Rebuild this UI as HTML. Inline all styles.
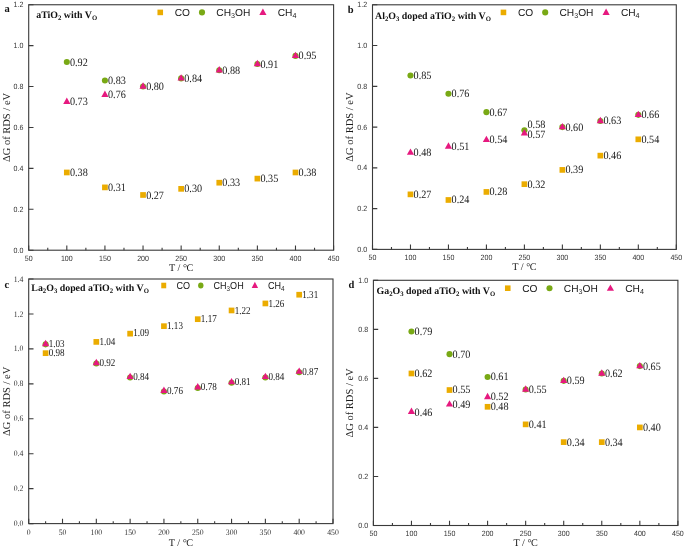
<!DOCTYPE html>
<html><head><meta charset="utf-8"><style>
html,body{margin:0;padding:0;background:#fff;}
svg{display:block;will-change:transform;text-rendering:geometricPrecision;}
.sf{font-family:"Liberation Serif",serif;}
.ss{font-family:"Liberation Sans",sans-serif;}
</style></head><body>
<svg width="685" height="548" viewBox="0 0 685 548">
<rect width="685" height="548" fill="#fff"/>
<rect x="28.7" y="4.75" width="304.9" height="245.45" fill="none" stroke="#3a3a3a" stroke-width="1.1"/>
<path d="M28.7 250.2v-4.8 M47.76 250.2v-2.4 M66.81 250.2v-4.8 M85.87 250.2v-2.4 M104.93 250.2v-4.8 M123.98 250.2v-2.4 M143.04 250.2v-4.8 M162.09 250.2v-2.4 M181.15 250.2v-4.8 M200.21 250.2v-2.4 M219.26 250.2v-4.8 M238.32 250.2v-2.4 M257.38 250.2v-4.8 M276.43 250.2v-2.4 M295.49 250.2v-4.8 M314.54 250.2v-2.4 M333.6 250.2v-4.8 M28.7 250.2h4.8 M28.7 209.29h4.8 M28.7 168.38h4.8 M28.7 127.47h4.8 M28.7 86.57h4.8 M28.7 45.66h4.8 M28.7 4.75h4.8" stroke="#3a3a3a" stroke-width="1.1" fill="none"/>
<g class="ss" font-size="7.7" fill="#333" text-anchor="middle"><text transform="translate(28.7 261) scale(0.92 1)">50</text><text transform="translate(66.81 261) scale(0.92 1)">100</text><text transform="translate(104.93 261) scale(0.92 1)">150</text><text transform="translate(143.04 261) scale(0.92 1)">200</text><text transform="translate(181.15 261) scale(0.92 1)">250</text><text transform="translate(219.26 261) scale(0.92 1)">300</text><text transform="translate(257.38 261) scale(0.92 1)">350</text><text transform="translate(295.49 261) scale(0.92 1)">400</text><text transform="translate(333.6 261) scale(0.92 1)">450</text></g>
<g class="ss" font-size="7.7" fill="#333" text-anchor="end"><text transform="translate(23.4 252.8) scale(0.92 1)">0.0</text><text transform="translate(23.4 211.89) scale(0.92 1)">0.2</text><text transform="translate(23.4 170.98) scale(0.92 1)">0.4</text><text transform="translate(23.4 130.07) scale(0.92 1)">0.6</text><text transform="translate(23.4 89.17) scale(0.92 1)">0.8</text><text transform="translate(23.4 48.26) scale(0.92 1)">1.0</text><text transform="translate(23.4 7.35) scale(0.92 1)">1.2</text></g>
<text transform="translate(9.6 127.47) rotate(-90)" text-anchor="middle" class="sf" font-size="10.5" fill="#1a1a1a">ΔG of RDS / eV</text>
<text x="181.15" y="270.6" text-anchor="middle" class="sf" font-size="10.2" fill="#1a1a1a">T / °<tspan dx="-0.6">C</tspan></text>
<text x="4.4" y="11.8" class="sf" font-weight="bold" font-size="10.5" fill="#111">a</text>
<text x="36.2" y="17.9" class="sf" font-weight="bold" font-size="9.9" fill="#111"><tspan dy="0">aTiO</tspan><tspan font-size="6.73" dy="2">2</tspan><tspan dy="-2"> with V</tspan><tspan font-size="6.73" dy="2">O</tspan></text>
<g transform="translate(157.4 12.4) scale(1.0 1)">
<rect x="0.06" y="-2.79" width="5.59" height="5.59" fill="#EBAC00"/>
<g class="ss" font-size="10.2" fill="#222">
<text x="17.3" y="3.6">CO</text>
<text x="58.9" y="3.6">CH<tspan font-size="7.14" dy="2">3</tspan><tspan dy="-2">OH</tspan></text>
<text x="120.3" y="3.6">CH<tspan font-size="7.14" dy="2">4</tspan></text>
</g>
<circle cx="44.6" cy="0" r="3.05" fill="#79A915"/>
<path d="M105.5 -3.8L109.1 2.6L101.9 2.6Z" fill="#E6197F"/>
</g>
<rect x="63.96" y="169.62" width="5.7" height="5.7" fill="#EBAC00"/>
<rect x="102.08" y="184.54" width="5.7" height="5.7" fill="#EBAC00"/>
<rect x="140.19" y="192.12" width="5.7" height="5.7" fill="#EBAC00"/>
<rect x="178.3" y="185.99" width="5.7" height="5.7" fill="#EBAC00"/>
<rect x="216.41" y="179.85" width="5.7" height="5.7" fill="#EBAC00"/>
<rect x="254.53" y="175.76" width="5.7" height="5.7" fill="#EBAC00"/>
<rect x="292.64" y="169.62" width="5.7" height="5.7" fill="#EBAC00"/>
<circle cx="66.81" cy="62.02" r="3.05" fill="#79A915"/>
<circle cx="104.93" cy="80.43" r="3.05" fill="#79A915"/>
<circle cx="143.04" cy="86.57" r="3.05" fill="#79A915"/>
<circle cx="181.15" cy="78.39" r="3.05" fill="#79A915"/>
<circle cx="219.26" cy="70.2" r="3.05" fill="#79A915"/>
<circle cx="257.38" cy="64.07" r="3.05" fill="#79A915"/>
<circle cx="295.49" cy="55.89" r="3.05" fill="#79A915"/>
<path d="M66.81 97.58L70.41 103.98L63.21 103.98Z" fill="#E6197F"/>
<path d="M104.93 90.55L108.53 96.95L101.33 96.95Z" fill="#E6197F"/>
<path d="M143.04 82.37L146.64 88.77L139.44 88.77Z" fill="#E6197F"/>
<path d="M181.15 74.19L184.75 80.59L177.55 80.59Z" fill="#E6197F"/>
<path d="M219.26 66L222.86 72.4L215.66 72.4Z" fill="#E6197F"/>
<path d="M257.38 59.87L260.98 66.27L253.78 66.27Z" fill="#E6197F"/>
<path d="M295.49 51.69L299.09 58.09L291.89 58.09Z" fill="#E6197F"/>
<g class="sf" font-size="11.2" fill="#1a1a1a"><text transform="translate(69.91 176.01) scale(0.91 1)">0.38</text><text transform="translate(108.03 190.93) scale(0.91 1)">0.31</text><text transform="translate(146.14 198.51) scale(0.91 1)">0.27</text><text transform="translate(184.25 192.38) scale(0.91 1)">0.30</text><text transform="translate(222.36 186.24) scale(0.91 1)">0.33</text><text transform="translate(260.48 182.15) scale(0.91 1)">0.35</text><text transform="translate(298.59 176.01) scale(0.91 1)">0.38</text><text transform="translate(69.91 65.56) scale(0.91 1)">0.92</text><text transform="translate(108.03 83.97) scale(0.91 1)">0.83</text><text transform="translate(69.91 105.32) scale(0.91 1)">0.73</text><text transform="translate(108.03 98.29) scale(0.91 1)">0.76</text><text transform="translate(146.14 90.11) scale(0.91 1)">0.80</text><text transform="translate(184.25 81.93) scale(0.91 1)">0.84</text><text transform="translate(222.36 73.74) scale(0.91 1)">0.88</text><text transform="translate(260.48 67.61) scale(0.91 1)">0.91</text><text transform="translate(298.59 59.43) scale(0.91 1)">0.95</text></g>
<rect x="372.5" y="4.8" width="303.8" height="244.6" fill="none" stroke="#3a3a3a" stroke-width="1.1"/>
<path d="M372.5 249.4v-4.8 M391.49 249.4v-2.4 M410.48 249.4v-4.8 M429.46 249.4v-2.4 M448.45 249.4v-4.8 M467.44 249.4v-2.4 M486.42 249.4v-4.8 M505.41 249.4v-2.4 M524.4 249.4v-4.8 M543.39 249.4v-2.4 M562.38 249.4v-4.8 M581.36 249.4v-2.4 M600.35 249.4v-4.8 M619.34 249.4v-2.4 M638.32 249.4v-4.8 M657.31 249.4v-2.4 M676.3 249.4v-4.8 M372.5 249.4h4.8 M372.5 208.63h4.8 M372.5 167.87h4.8 M372.5 127.1h4.8 M372.5 86.33h4.8 M372.5 45.57h4.8 M372.5 4.8h4.8" stroke="#3a3a3a" stroke-width="1.1" fill="none"/>
<g class="ss" font-size="7.7" fill="#333" text-anchor="middle"><text transform="translate(372.5 260.2) scale(0.92 1)">50</text><text transform="translate(410.48 260.2) scale(0.92 1)">100</text><text transform="translate(448.45 260.2) scale(0.92 1)">150</text><text transform="translate(486.42 260.2) scale(0.92 1)">200</text><text transform="translate(524.4 260.2) scale(0.92 1)">250</text><text transform="translate(562.38 260.2) scale(0.92 1)">300</text><text transform="translate(600.35 260.2) scale(0.92 1)">350</text><text transform="translate(638.32 260.2) scale(0.92 1)">400</text><text transform="translate(676.3 260.2) scale(0.92 1)">450</text></g>
<g class="ss" font-size="7.7" fill="#333" text-anchor="end"><text transform="translate(367.2 252) scale(0.92 1)">0.0</text><text transform="translate(367.2 211.23) scale(0.92 1)">0.2</text><text transform="translate(367.2 170.47) scale(0.92 1)">0.4</text><text transform="translate(367.2 129.7) scale(0.92 1)">0.6</text><text transform="translate(367.2 88.93) scale(0.92 1)">0.8</text><text transform="translate(367.2 48.17) scale(0.92 1)">1.0</text><text transform="translate(367.2 7.4) scale(0.92 1)">1.2</text></g>
<text transform="translate(353.4 127.1) rotate(-90)" text-anchor="middle" class="sf" font-size="10.5" fill="#1a1a1a">ΔG of RDS / eV</text>
<text x="524.4" y="270.2" text-anchor="middle" class="sf" font-size="10.2" fill="#1a1a1a">T / °<tspan dx="-0.6">C</tspan></text>
<text x="347.8" y="12.6" class="sf" font-weight="bold" font-size="10.5" fill="#111">b</text>
<text x="375" y="18.6" class="sf" font-weight="bold" font-size="9.9" fill="#111"><tspan dy="0">Al</tspan><tspan font-size="6.73" dy="2">2</tspan><tspan dy="-2">O</tspan><tspan font-size="6.73" dy="2">3</tspan><tspan dy="-2"> doped aTiO</tspan><tspan font-size="6.73" dy="2">2</tspan><tspan dy="-2"> with V</tspan><tspan font-size="6.73" dy="2">O</tspan></text>
<g transform="translate(500.6 12.4) scale(1.0 1)">
<rect x="0.06" y="-2.79" width="5.59" height="5.59" fill="#EBAC00"/>
<g class="ss" font-size="10.2" fill="#222">
<text x="17.3" y="3.6">CO</text>
<text x="58.9" y="3.6">CH<tspan font-size="7.14" dy="2">3</tspan><tspan dy="-2">OH</tspan></text>
<text x="120.3" y="3.6">CH<tspan font-size="7.14" dy="2">4</tspan></text>
</g>
<circle cx="44.6" cy="0" r="3.05" fill="#79A915"/>
<path d="M105.5 -3.8L109.1 2.6L101.9 2.6Z" fill="#E6197F"/>
</g>
<rect x="407.62" y="191.52" width="5.7" height="5.7" fill="#EBAC00"/>
<rect x="445.6" y="197.13" width="5.7" height="5.7" fill="#EBAC00"/>
<rect x="483.57" y="189.08" width="5.7" height="5.7" fill="#EBAC00"/>
<rect x="521.55" y="181.32" width="5.7" height="5.7" fill="#EBAC00"/>
<rect x="559.52" y="167.06" width="5.7" height="5.7" fill="#EBAC00"/>
<rect x="597.5" y="152.79" width="5.7" height="5.7" fill="#EBAC00"/>
<rect x="635.47" y="136.48" width="5.7" height="5.7" fill="#EBAC00"/>
<circle cx="410.48" cy="75.54" r="3.05" fill="#79A915"/>
<circle cx="448.45" cy="93.79" r="3.05" fill="#79A915"/>
<circle cx="486.42" cy="112.13" r="3.05" fill="#79A915"/>
<circle cx="524.4" cy="130.28" r="3.05" fill="#79A915"/>
<circle cx="562.38" cy="127.1" r="3.05" fill="#79A915"/>
<circle cx="600.35" cy="120.99" r="3.05" fill="#79A915"/>
<circle cx="638.32" cy="114.87" r="3.05" fill="#79A915"/>
<path d="M410.48 148.46L414.08 154.86L406.88 154.86Z" fill="#E6197F"/>
<path d="M448.45 142.25L452.05 148.64L444.85 148.64Z" fill="#E6197F"/>
<path d="M486.42 135.63L490.02 142.03L482.82 142.03Z" fill="#E6197F"/>
<path d="M524.4 129.02L528 135.42L520.8 135.42Z" fill="#E6197F"/>
<path d="M562.38 122.9L565.98 129.3L558.77 129.3Z" fill="#E6197F"/>
<path d="M600.35 116.79L603.95 123.19L596.75 123.19Z" fill="#E6197F"/>
<path d="M638.32 110.67L641.92 117.07L634.72 117.07Z" fill="#E6197F"/>
<g class="sf" font-size="11.2" fill="#1a1a1a"><text transform="translate(413.58 197.81) scale(0.91 1)">0.27</text><text transform="translate(451.55 203.42) scale(0.91 1)">0.24</text><text transform="translate(489.52 195.37) scale(0.91 1)">0.28</text><text transform="translate(527.5 187.61) scale(0.91 1)">0.32</text><text transform="translate(565.48 173.34) scale(0.91 1)">0.39</text><text transform="translate(603.45 159.08) scale(0.91 1)">0.46</text><text transform="translate(641.42 142.77) scale(0.91 1)">0.54</text><text transform="translate(413.58 78.98) scale(0.91 1)">0.85</text><text transform="translate(451.55 97.23) scale(0.91 1)">0.76</text><text transform="translate(489.52 115.57) scale(0.91 1)">0.67</text><text transform="translate(527.5 127.72) scale(0.91 1)">0.58</text><text transform="translate(527.5 137.66) scale(0.91 1)">0.57</text><text transform="translate(413.58 156.1) scale(0.91 1)">0.48</text><text transform="translate(451.55 149.88) scale(0.91 1)">0.51</text><text transform="translate(489.52 143.27) scale(0.91 1)">0.54</text><text transform="translate(565.48 130.54) scale(0.91 1)">0.60</text><text transform="translate(603.45 124.43) scale(0.91 1)">0.63</text><text transform="translate(641.42 118.31) scale(0.91 1)">0.66</text></g>
<rect x="28.7" y="279" width="304.3" height="244.6" fill="none" stroke="#3a3a3a" stroke-width="1.1"/>
<path d="M28.7 523.6v-4.8 M45.61 523.6v-2.4 M62.51 523.6v-4.8 M79.42 523.6v-2.4 M96.32 523.6v-4.8 M113.23 523.6v-2.4 M130.13 523.6v-4.8 M147.04 523.6v-2.4 M163.94 523.6v-4.8 M180.85 523.6v-2.4 M197.76 523.6v-4.8 M214.66 523.6v-2.4 M231.57 523.6v-4.8 M248.47 523.6v-2.4 M265.38 523.6v-4.8 M282.28 523.6v-2.4 M299.19 523.6v-4.8 M316.09 523.6v-2.4 M333 523.6v-4.8 M28.7 523.6h4.8 M28.7 488.66h4.8 M28.7 453.71h4.8 M28.7 418.77h4.8 M28.7 383.83h4.8 M28.7 348.89h4.8 M28.7 313.94h4.8 M28.7 279h4.8" stroke="#3a3a3a" stroke-width="1.1" fill="none"/>
<g class="sf" font-size="8.4" fill="#333" text-anchor="middle"><text transform="translate(28.7 535.1) scale(0.92 1)">0</text><text transform="translate(62.51 535.1) scale(0.92 1)">50</text><text transform="translate(96.32 535.1) scale(0.92 1)">100</text><text transform="translate(130.13 535.1) scale(0.92 1)">150</text><text transform="translate(163.94 535.1) scale(0.92 1)">200</text><text transform="translate(197.76 535.1) scale(0.92 1)">250</text><text transform="translate(231.57 535.1) scale(0.92 1)">300</text><text transform="translate(265.38 535.1) scale(0.92 1)">350</text><text transform="translate(299.19 535.1) scale(0.92 1)">400</text><text transform="translate(333 535.1) scale(0.92 1)">450</text></g>
<g class="sf" font-size="8.4" fill="#333" text-anchor="end"><text transform="translate(23.4 526.2) scale(0.92 1)">0.0</text><text transform="translate(23.4 491.26) scale(0.92 1)">0.2</text><text transform="translate(23.4 456.31) scale(0.92 1)">0.4</text><text transform="translate(23.4 421.37) scale(0.92 1)">0.6</text><text transform="translate(23.4 386.43) scale(0.92 1)">0.8</text><text transform="translate(23.4 351.49) scale(0.92 1)">1.0</text><text transform="translate(23.4 316.54) scale(0.92 1)">1.2</text><text transform="translate(23.4 281.6) scale(0.92 1)">1.4</text></g>
<text transform="translate(9.6 401.3) rotate(-90)" text-anchor="middle" class="sf" font-size="10.5" fill="#1a1a1a">ΔG of RDS / eV</text>
<text x="180.85" y="545.6" text-anchor="middle" class="sf" font-size="10.2" fill="#1a1a1a">T / °<tspan dx="-0.6">C</tspan></text>
<text x="4.6" y="287.9" class="sf" font-weight="bold" font-size="10.5" fill="#111">c</text>
<text x="31.3" y="291.1" class="sf" font-weight="bold" font-size="9.9" fill="#111"><tspan dy="0">La</tspan><tspan font-size="6.73" dy="2">2</tspan><tspan dy="-2">O</tspan><tspan font-size="6.73" dy="2">3</tspan><tspan dy="-2"> doped aTiO</tspan><tspan font-size="6.73" dy="2">2</tspan><tspan dy="-2"> with V</tspan><tspan font-size="6.73" dy="2">O</tspan></text>
<g transform="translate(161.2 285.5) scale(0.888 1)">
<rect x="0.06" y="-2.79" width="5.59" height="5.59" fill="#EBAC00"/>
<g class="ss" font-size="10.2" fill="#222">
<text x="17.3" y="3.6">CO</text>
<text x="58.9" y="3.6">CH<tspan font-size="7.14" dy="2">3</tspan><tspan dy="-2">OH</tspan></text>
<text x="120.3" y="3.6">CH<tspan font-size="7.14" dy="2">4</tspan></text>
</g>
<circle cx="44.6" cy="0" r="3.05" fill="#79A915"/>
<path d="M105.5 -3.8L109.1 2.6L101.9 2.6Z" fill="#E6197F"/>
</g>
<rect x="42.76" y="350.33" width="5.7" height="5.7" fill="#EBAC00"/>
<rect x="93.47" y="339.05" width="5.7" height="5.7" fill="#EBAC00"/>
<rect x="127.28" y="330.81" width="5.7" height="5.7" fill="#EBAC00"/>
<rect x="161.09" y="323.32" width="5.7" height="5.7" fill="#EBAC00"/>
<rect x="194.91" y="316.33" width="5.7" height="5.7" fill="#EBAC00"/>
<rect x="228.72" y="307.6" width="5.7" height="5.7" fill="#EBAC00"/>
<rect x="262.53" y="300.61" width="5.7" height="5.7" fill="#EBAC00"/>
<rect x="296.34" y="291.87" width="5.7" height="5.7" fill="#EBAC00"/>
<circle cx="45.61" cy="344.34" r="3.05" fill="#79A915"/>
<circle cx="96.32" cy="363.56" r="3.05" fill="#79A915"/>
<circle cx="130.13" cy="377.54" r="3.05" fill="#79A915"/>
<circle cx="163.94" cy="391.52" r="3.05" fill="#79A915"/>
<circle cx="197.76" cy="388.02" r="3.05" fill="#79A915"/>
<circle cx="231.57" cy="382.78" r="3.05" fill="#79A915"/>
<circle cx="265.38" cy="377.54" r="3.05" fill="#79A915"/>
<circle cx="299.19" cy="372.3" r="3.05" fill="#79A915"/>
<path d="M45.61 339.84L49.21 346.24L42.01 346.24Z" fill="#E6197F"/>
<path d="M96.32 358.86L99.92 365.26L92.72 365.26Z" fill="#E6197F"/>
<path d="M130.13 372.64L133.73 379.04L126.53 379.04Z" fill="#E6197F"/>
<path d="M163.94 386.62L167.54 393.02L160.34 393.02Z" fill="#E6197F"/>
<path d="M197.76 383.12L201.36 389.52L194.16 389.52Z" fill="#E6197F"/>
<path d="M231.57 377.88L235.17 384.28L227.97 384.28Z" fill="#E6197F"/>
<path d="M265.38 372.64L268.98 379.04L261.78 379.04Z" fill="#E6197F"/>
<path d="M299.19 367.4L302.79 373.8L295.59 373.8Z" fill="#E6197F"/>
<g class="sf" font-size="10.7" fill="#1a1a1a"><text transform="translate(48.71 355.75) scale(0.85 1)">0.98</text><text transform="translate(99.42 344.97) scale(0.85 1)">1.04</text><text transform="translate(133.23 336.23) scale(0.85 1)">1.09</text><text transform="translate(167.04 329.24) scale(0.85 1)">1.13</text><text transform="translate(200.86 322.25) scale(0.85 1)">1.17</text><text transform="translate(234.67 313.52) scale(0.85 1)">1.22</text><text transform="translate(268.48 306.53) scale(0.85 1)">1.26</text><text transform="translate(302.29 297.79) scale(0.85 1)">1.31</text><text transform="translate(48.71 346.71) scale(0.85 1)">1.03</text><text transform="translate(99.42 365.93) scale(0.85 1)">0.92</text><text transform="translate(133.23 379.91) scale(0.85 1)">0.84</text><text transform="translate(167.04 393.89) scale(0.85 1)">0.76</text><text transform="translate(200.86 390.39) scale(0.85 1)">0.78</text><text transform="translate(234.67 385.15) scale(0.85 1)">0.81</text><text transform="translate(268.48 379.91) scale(0.85 1)">0.84</text><text transform="translate(302.29 374.67) scale(0.85 1)">0.87</text></g>
<rect x="373.4" y="280.3" width="304.5" height="245.2" fill="none" stroke="#3a3a3a" stroke-width="1.1"/>
<path d="M373.4 525.5v-4.8 M392.43 525.5v-2.4 M411.46 525.5v-4.8 M430.49 525.5v-2.4 M449.52 525.5v-4.8 M468.56 525.5v-2.4 M487.59 525.5v-4.8 M506.62 525.5v-2.4 M525.65 525.5v-4.8 M544.68 525.5v-2.4 M563.71 525.5v-4.8 M582.74 525.5v-2.4 M601.77 525.5v-4.8 M620.81 525.5v-2.4 M639.84 525.5v-4.8 M658.87 525.5v-2.4 M677.9 525.5v-4.8 M373.4 525.5h4.8 M373.4 476.46h4.8 M373.4 427.42h4.8 M373.4 378.38h4.8 M373.4 329.34h4.8 M373.4 280.3h4.8" stroke="#3a3a3a" stroke-width="1.1" fill="none"/>
<g class="ss" font-size="7.7" fill="#333" text-anchor="middle"><text transform="translate(373.4 536.3) scale(0.92 1)">50</text><text transform="translate(411.46 536.3) scale(0.92 1)">100</text><text transform="translate(449.52 536.3) scale(0.92 1)">150</text><text transform="translate(487.59 536.3) scale(0.92 1)">200</text><text transform="translate(525.65 536.3) scale(0.92 1)">250</text><text transform="translate(563.71 536.3) scale(0.92 1)">300</text><text transform="translate(601.77 536.3) scale(0.92 1)">350</text><text transform="translate(639.84 536.3) scale(0.92 1)">400</text><text transform="translate(677.9 536.3) scale(0.92 1)">450</text></g>
<g class="ss" font-size="7.7" fill="#333" text-anchor="end"><text transform="translate(368.1 528.1) scale(0.92 1)">0.0</text><text transform="translate(368.1 479.06) scale(0.92 1)">0.2</text><text transform="translate(368.1 430.02) scale(0.92 1)">0.4</text><text transform="translate(368.1 380.98) scale(0.92 1)">0.6</text><text transform="translate(368.1 331.94) scale(0.92 1)">0.8</text><text transform="translate(368.1 282.9) scale(0.92 1)">1.0</text></g>
<text transform="translate(353.4 402.9) rotate(-90)" text-anchor="middle" class="sf" font-size="10.5" fill="#1a1a1a">ΔG of RDS / eV</text>
<text x="525.65" y="546" text-anchor="middle" class="sf" font-size="10.2" fill="#1a1a1a">T / °<tspan dx="-0.6">C</tspan></text>
<text x="348.6" y="287.8" class="sf" font-weight="bold" font-size="10.5" fill="#111">d</text>
<text x="376.5" y="294.4" class="sf" font-weight="bold" font-size="9.9" fill="#111"><tspan dy="0">Ga</tspan><tspan font-size="6.73" dy="2">2</tspan><tspan dy="-2">O</tspan><tspan font-size="6.73" dy="2">3</tspan><tspan dy="-2"> doped aTiO</tspan><tspan font-size="6.73" dy="2">2</tspan><tspan dy="-2"> with V</tspan><tspan font-size="6.73" dy="2">O</tspan></text>
<g transform="translate(504.9 288.2) scale(1.0 1)">
<rect x="0.06" y="-2.79" width="5.59" height="5.59" fill="#EBAC00"/>
<g class="ss" font-size="10.2" fill="#222">
<text x="17.3" y="3.6">CO</text>
<text x="58.9" y="3.6">CH<tspan font-size="7.14" dy="2">3</tspan><tspan dy="-2">OH</tspan></text>
<text x="120.3" y="3.6">CH<tspan font-size="7.14" dy="2">4</tspan></text>
</g>
<circle cx="44.6" cy="0" r="3.05" fill="#79A915"/>
<path d="M105.5 -3.8L109.1 2.6L101.9 2.6Z" fill="#E6197F"/>
</g>
<rect x="408.61" y="370.63" width="5.7" height="5.7" fill="#EBAC00"/>
<rect x="446.67" y="387.19" width="5.7" height="5.7" fill="#EBAC00"/>
<rect x="484.74" y="403.95" width="5.7" height="5.7" fill="#EBAC00"/>
<rect x="522.8" y="421.52" width="5.7" height="5.7" fill="#EBAC00"/>
<rect x="560.86" y="439.28" width="5.7" height="5.7" fill="#EBAC00"/>
<rect x="598.92" y="439.28" width="5.7" height="5.7" fill="#EBAC00"/>
<rect x="636.99" y="424.57" width="5.7" height="5.7" fill="#EBAC00"/>
<circle cx="411.46" cy="331.49" r="3.05" fill="#79A915"/>
<circle cx="449.52" cy="354.16" r="3.05" fill="#79A915"/>
<circle cx="487.59" cy="376.93" r="3.05" fill="#79A915"/>
<circle cx="525.65" cy="389.54" r="3.05" fill="#79A915"/>
<circle cx="563.71" cy="380.83" r="3.05" fill="#79A915"/>
<circle cx="601.77" cy="373.48" r="3.05" fill="#79A915"/>
<circle cx="639.84" cy="366.12" r="3.05" fill="#79A915"/>
<path d="M411.46 407.61L415.06 414.01L407.86 414.01Z" fill="#E6197F"/>
<path d="M449.52 400.15L453.12 406.55L445.92 406.55Z" fill="#E6197F"/>
<path d="M487.59 392.8L491.19 399.2L483.99 399.2Z" fill="#E6197F"/>
<path d="M525.65 385.34L529.25 391.74L522.05 391.74Z" fill="#E6197F"/>
<path d="M563.71 376.63L567.31 383.03L560.11 383.03Z" fill="#E6197F"/>
<path d="M601.77 369.28L605.38 375.68L598.17 375.68Z" fill="#E6197F"/>
<path d="M639.84 361.92L643.44 368.32L636.24 368.32Z" fill="#E6197F"/>
<g class="sf" font-size="11.2" fill="#1a1a1a"><text transform="translate(414.56 376.92) scale(0.91 1)">0.62</text><text transform="translate(452.62 393.48) scale(0.91 1)">0.55</text><text transform="translate(490.69 410.24) scale(0.91 1)">0.48</text><text transform="translate(528.75 427.81) scale(0.91 1)">0.41</text><text transform="translate(566.81 445.57) scale(0.91 1)">0.34</text><text transform="translate(604.88 445.57) scale(0.91 1)">0.34</text><text transform="translate(642.94 430.86) scale(0.91 1)">0.40</text><text transform="translate(414.56 334.93) scale(0.91 1)">0.79</text><text transform="translate(452.62 357.6) scale(0.91 1)">0.70</text><text transform="translate(490.69 380.37) scale(0.91 1)">0.61</text><text transform="translate(414.56 416.45) scale(0.91 1)">0.46</text><text transform="translate(452.62 407.79) scale(0.91 1)">0.49</text><text transform="translate(490.69 400.44) scale(0.91 1)">0.52</text><text transform="translate(528.75 392.98) scale(0.91 1)">0.55</text><text transform="translate(566.81 384.27) scale(0.91 1)">0.59</text><text transform="translate(604.88 376.92) scale(0.91 1)">0.62</text><text transform="translate(642.94 369.56) scale(0.91 1)">0.65</text></g>
</svg>
</body></html>
